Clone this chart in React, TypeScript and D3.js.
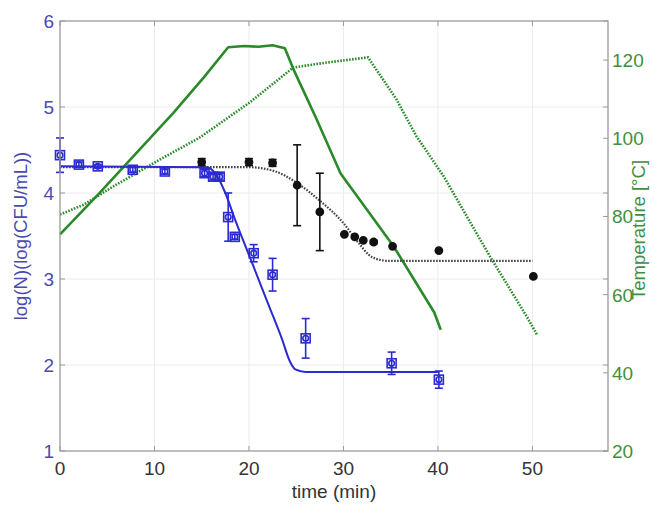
import React from "react";
import * as d3 from "d3";

// ---- data ----
const xTicks = [0, 10, 20, 30, 40, 50];
const leftTicks = [1, 2, 3, 4, 5, 6];
const rightTicks = [20, 40, 60, 80, 100, 120];

// blue measured survival (time, logN, err)
const blueT = [0, 2.0, 4.0, 7.7, 11.1, 15.3, 16.2, 16.9, 17.8, 18.5, 20.5, 22.5, 26.0, 35.1, 40.1];
const blueV = [4.44, 4.33, 4.31, 4.27, 4.25, 4.23, 4.19, 4.19, 3.72, 3.49, 3.30, 3.05, 2.31, 2.02, 1.83];
const blueE = [0.2, 0.03, 0.02, 0.03, 0.03, 0.04, 0.04, 0.04, 0.28, 0.03, 0.1, 0.19, 0.23, 0.13, 0.1];

// blue fitted model
const blueFitT = [0, 15.5, 16.5, 17.5, 18.5, 20, 22, 23.5, 24.3, 24.9, 26, 40];
const blueFitV = [4.31, 4.30, 4.22, 4.0, 3.7, 3.28, 2.72, 2.3, 2.05, 1.95, 1.92, 1.92];

// black measured survival
const blackT = [15.0, 20.0, 22.5, 25.1, 27.5, 30.1, 31.2, 32.1, 33.2, 35.2, 40.1, 50.1];
const blackV = [4.36, 4.36, 4.35, 4.09, 3.78, 3.52, 3.49, 3.45, 3.43, 3.38, 3.33, 3.03];
const blackE = [0.04, 0.04, 0.04, 0.47, 0.45, 0, 0, 0, 0.02, 0, 0, 0];

// black fitted model
const blackFitT = [0, 20, 22.8, 24.9, 27.4, 30, 31.6, 32.7, 34, 35, 50];
const blackFitV = [4.30, 4.30, 4.25, 4.13, 3.92, 3.65, 3.42, 3.28, 3.22, 3.21, 3.21];

// temperature, solid
const tempSolidT = [0, 4, 8, 12, 15.2, 17.8, 19.5, 21, 22.5, 23.8, 24.7, 27.1, 29.7, 35.3, 39.6, 40.3];
const tempSolidV = [75.4, 85.5, 96, 106.5, 115.5, 123.3, 123.6, 123.4, 123.8, 123.0, 117.7, 105.2, 91.0, 72.4, 55.5, 51.0];

// temperature, dotted
const tempDotT = [0, 2.5, 6, 10.6, 14.8, 20.1, 24.7, 28, 32.6, 35.6, 37.7, 40.6, 45.5, 49.4, 50.5];
const tempDotV = [80.5, 83, 88.2, 94.6, 100.2, 109.2, 118.1, 119.3, 120.7, 110.0, 100.6, 90.3, 69.8, 54.4, 49.7];

// ---- layout ----
const W = 665, H = 514;
const L = 60, R = 608, T = 21, B = 451;
const FONT = "'Liberation Sans', Arial, sans-serif";
const BLUE = "#2b2bd0";
const BLUE_TXT = "#4a4ab0";
const GREEN = "#2a8a2a";
const GREEN_TXT = "#3f8f3f";
const AX = "#9a9a9a";

export default function App() {
  const x = d3.scaleLinear().domain([0, 58]).range([L, R]);
  const yL = d3.scaleLinear().domain([1, 6]).range([B, T]);
  const yR = d3.scaleLinear().domain([20, 130]).range([B, T]);

  const mk = (ts: number[], vs: number[]) => ts.map((t, i) => [t, vs[i]] as [number, number]);
  const lineL = d3.line<[number, number]>().x(d => x(d[0])).y(d => yL(d[1])).curve(d3.curveMonotoneX);
  const lineR = d3.line<[number, number]>().x(d => x(d[0])).y(d => yR(d[1]));

  const tick = 5;
  const cap = 4;

  return (
    <div style={{ position: "absolute", left: 0, top: 0 }}>
      <svg width={W} height={H} style={{ display: "block", background: "#fff" }} fontFamily={FONT}>
        {/* grid */}
        {xTicks.slice(1).map(t => (
          <line key={"gx" + t} x1={x(t)} x2={x(t)} y1={T} y2={B} stroke="#ececec" strokeWidth={1} />
        ))}
        {leftTicks.slice(1, -1).map(v => (
          <line key={"gy" + v} x1={L} x2={R} y1={yL(v)} y2={yL(v)} stroke="#ececec" strokeWidth={1} />
        ))}

        {/* temperature lines */}
        <path d={lineR(mk(tempSolidT, tempSolidV)) || ""} fill="none" stroke={GREEN} strokeWidth={2.6} strokeLinejoin="round" />
        <path d={lineR(mk(tempDotT, tempDotV)) || ""} fill="none" stroke={GREEN} strokeWidth={2.6} strokeDasharray="1.6 1.4" />

        {/* fits */}
        <path d={lineL(mk(blackFitT, blackFitV)) || ""} fill="none" stroke="#444" strokeWidth={2.2} strokeDasharray="1.6 1.4" />
        <path d={lineL(mk(blueFitT, blueFitV)) || ""} fill="none" stroke={BLUE} strokeWidth={2} />

        {/* black points */}
        {blackT.map((t, i) => {
          const cx = x(t), cy = yL(blackV[i]), e = blackE[i];
          return (
            <g key={"k" + i} stroke="#111" strokeWidth={1.6}>
              {e > 0 && (
                <>
                  <line x1={cx} x2={cx} y1={yL(blackV[i] + e)} y2={yL(blackV[i] - e)} />
                  <line x1={cx - cap} x2={cx + cap} y1={yL(blackV[i] + e)} y2={yL(blackV[i] + e)} />
                  <line x1={cx - cap} x2={cx + cap} y1={yL(blackV[i] - e)} y2={yL(blackV[i] - e)} />
                </>
              )}
              <circle cx={cx} cy={cy} r={3.6} fill="#111" />
            </g>
          );
        })}

        {/* blue points */}
        {blueT.map((t, i) => {
          const cx = x(t), cy = yL(blueV[i]), e = blueE[i];
          return (
            <g key={"b" + i} stroke={BLUE} strokeWidth={1.6} fill="none">
              <line x1={cx} x2={cx} y1={yL(blueV[i] + e)} y2={yL(blueV[i] - e)} />
              <line x1={cx - cap} x2={cx + cap} y1={yL(blueV[i] + e)} y2={yL(blueV[i] + e)} />
              <line x1={cx - cap} x2={cx + cap} y1={yL(blueV[i] - e)} y2={yL(blueV[i] - e)} />
              <rect x={cx - 4.5} y={cy - 4.5} width={9} height={9} fill="none" />
              <circle cx={cx} cy={cy} r={2.8} />
            </g>
          );
        })}

        {/* box */}
        <rect x={L} y={T} width={R - L} height={B - T} fill="none" stroke={AX} strokeWidth={1.3} />

        {/* x ticks */}
        {xTicks.map(t => (
          <g key={"xt" + t}>
            <line x1={x(t)} x2={x(t)} y1={B} y2={B - tick} stroke={AX} />
            <line x1={x(t)} x2={x(t)} y1={T} y2={T + tick} stroke={AX} />
            <text x={x(t)} y={B + 24} textAnchor="middle" fontSize={19} fill="#333">{t}</text>
          </g>
        ))}
        <text x={(L + R) / 2} y={B + 47} textAnchor="middle" fontSize={19} fill="#333">time (min)</text>

        {/* left ticks */}
        {leftTicks.map(v => (
          <g key={"yl" + v}>
            <line x1={L} x2={L + tick} y1={yL(v)} y2={yL(v)} stroke={AX} />
            <line x1={R} x2={R - tick} y1={yL(v)} y2={yL(v)} stroke={AX} />
            <text x={L - 6} y={yL(v) + 7} textAnchor="end" fontSize={19} fill={BLUE_TXT}>{v}</text>
          </g>
        ))}
        <text transform={`translate(27,${(T + B) / 2}) rotate(-90)`} textAnchor="middle" fontSize={18.5} fill={BLUE_TXT}>
          log(N)(log(CFU/mL))
        </text>

        {/* right ticks */}
        {rightTicks.map(v => (
          <g key={"yr" + v}>
            <line x1={R} x2={R - tick} y1={yR(v)} y2={yR(v)} stroke={AX} />
            <text x={R + 4} y={yR(v) + 7} textAnchor="start" fontSize={19} fill={GREEN_TXT}>{v}</text>
          </g>
        ))}
        <text transform={`translate(645,230) rotate(-90)`} textAnchor="middle" fontSize={18.5} fill={GREEN_TXT}>
          Temperature [°C]
        </text>
      </svg>
    </div>
  );
}
